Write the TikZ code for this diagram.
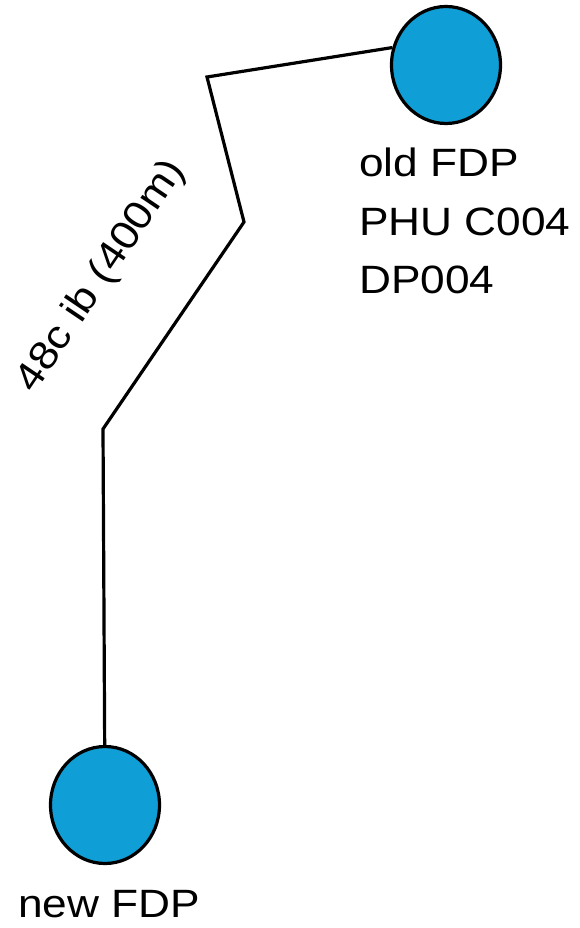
\documentclass[tikz,border=0pt]{standalone}
\usepackage{fontspec}
\setmainfont[FakeStretch=1.12]{Liberation Sans}
\usetikzlibrary{shapes.geometric}
\definecolor{fdpblue}{HTML}{0F9ED5}
\tikzset{
  fdp/.style={ellipse, draw=black, line width=3.2pt, fill=fdpblue, minimum width=109pt, minimum height=117pt, inner sep=0pt},
  lbl/.style={inner sep=0pt, font=\fontsize{39.5}{46}\selectfont},
  cable/.style={draw=black, line width=3.2pt, line join=miter}
}
\begin{document}
\begin{tikzpicture}[x=1pt,y=-1pt]
\useasboundingbox (0,0) rectangle (579,928);
\node[fdp] (A) at (446,65) {};
\node[fdp] (B) at (105,805) {};
\coordinate (c1) at (207,77);
\coordinate (c2) at (244,222);
\coordinate (c3) at (103,429);
\draw[cable] (A.162) -- (c1) -- (c2) -- (c3) -- (B);
\node[lbl, anchor=base west] (t1) at (359,177) {old FDP};
\node[lbl, anchor=base west] (t2) at (359,235) {PHU C004};
\node[lbl, anchor=base west] (t3) at (359,293) {DP004};
\node[lbl, anchor=base west] (t4) at (18,917) {new FDP};
\node[lbl, anchor=base, rotate=56] (t5) at (110,282) {48c ib (400m)};
\end{tikzpicture}
\end{document}
